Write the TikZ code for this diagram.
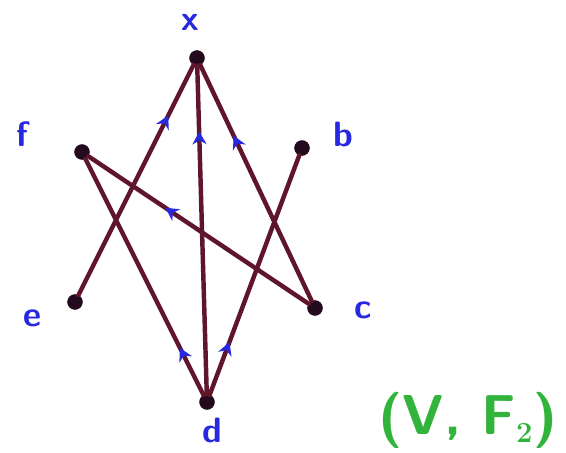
\documentclass[tikz,border=0pt]{standalone}
\usepackage{tikz}
\usetikzlibrary{arrows.meta, decorations.markings}

\definecolor{edgecol}{RGB}{95,22,45}
\definecolor{dotcol}{RGB}{35,10,30}
\definecolor{lblcol}{RGB}{40,40,225}
\definecolor{titlecol}{RGB}{50,180,60}

\begin{document}
\begin{tikzpicture}[
    x=0.03cm, y=-0.03cm,
    >=Stealth,
    vtx/.style={circle, fill=dotcol, draw=dotcol, inner sep=0pt,
                minimum size=0.45cm},
    lbl/.style={text=lblcol, font=\fontsize{30}{30}\selectfont\sffamily\bfseries},
    edge/.style={draw=edgecol, line width=3.8pt, line cap=round},
    tip/.style={postaction={decorate, decoration={markings,
                mark=at position #1 with
                {\arrow[lblcol]{Stealth[length=11pt, width=12pt]}}}}}
  ]
  \useasboundingbox (0,0) rectangle (566,453);

  % vertices
  \node[vtx] (x) at (197,58) {};
  \node[vtx] (f) at (82,152) {};
  \node[vtx] (b) at (302,148) {};
  \node[vtx] (e) at (75,302) {};
  \node[vtx] (c) at (315,308) {};
  \node[vtx] (d) at (207,402) {};

  % labels
  \node[lbl] (lx) at (190,22) {x};
  \node[lbl] (lf) at (22,134) {f};
  \node[lbl] (lb) at (343,134) {b};
  \node[lbl] (le) at (32,318) {e};
  \node[lbl] (lc) at (363,310) {c};
  \node[lbl] (ld) at (212,430) {d};

  % edges
  \draw[edge, tip=0.78] (e) -- (x);
  \draw[edge, tip=0.8] (d) -- (x);
  \draw[edge, tip=0.7] (c) -- (x);
  \draw[edge, tip=0.65] (c) -- (f);
  \draw[edge, tip=0.2] (d) -- (f);
  \draw[edge, tip=0.22] (d) -- (b);

  \node[text=titlecol, font=\fontsize{48}{48}\selectfont\sffamily\bfseries]
    (title) at (468,420) {(V, F$_\mathbf{2}$)};
\end{tikzpicture}
\end{document}
